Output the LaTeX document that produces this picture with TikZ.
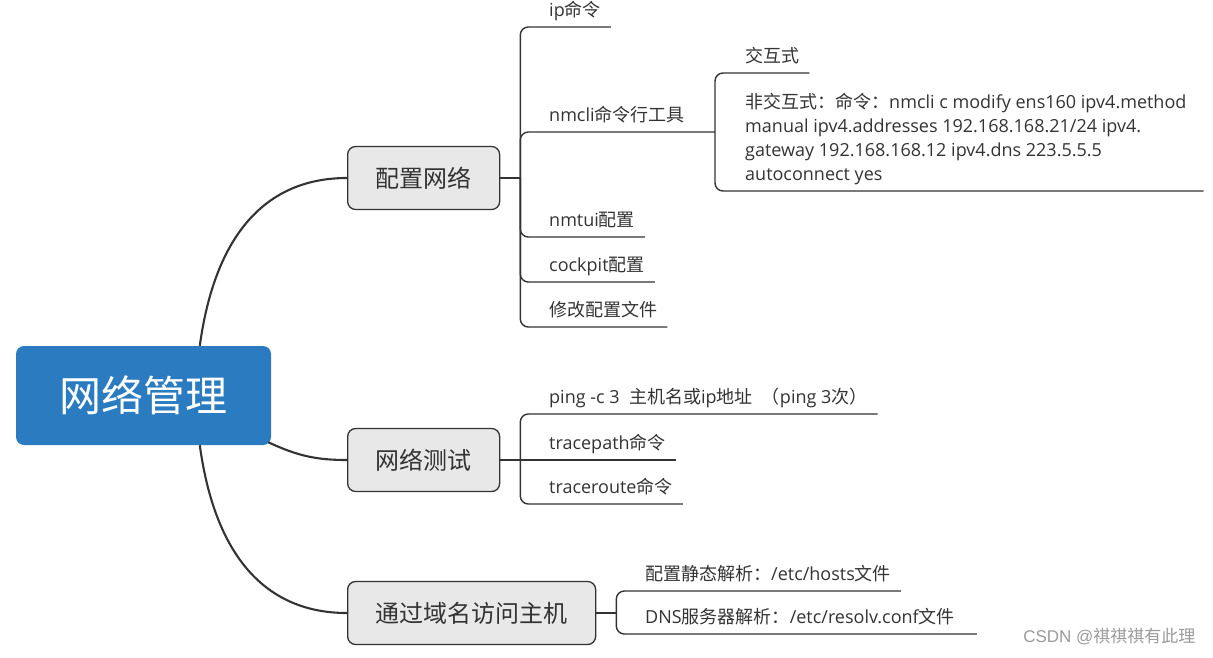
\documentclass[tikz,border=0pt]{standalone}
\usepackage{fontspec}
\setmainfont{Open Sans}
\newfontfamily\cjk{Noto Sans CJK SC}
\newfontfamily\marksans{Liberation Sans}
\newcommand{\zh}[1]{{\cjk #1}}
\usetikzlibrary{calc}
\definecolor{RootBlue}{HTML}{2B7BC1}
\definecolor{TopicGray}{HTML}{E8E8E8}
\definecolor{LineDark}{HTML}{333333}
\definecolor{MarkGray}{HTML}{9A9A9A}

\begin{document}
\begin{tikzpicture}[
    x=1pt, y=-1pt,
    root/.style={rectangle, rounded corners=8pt, fill=RootBlue, text=white, font=\cjk\fontsize{42}{50}\selectfont, minimum width=255pt, minimum height=99pt},
    topic/.style={rectangle, rounded corners=8pt, draw=LineDark, line width=1.3pt, fill=TopicGray, text=LineDark, font=\cjk\fontsize{24}{28}\selectfont, minimum height=63pt, inner xsep=28pt, anchor=west},
    leaf/.style={anchor=south west, inner xsep=10pt, inner ysep=0pt, text depth=10pt, text=LineDark, align=left, font=\fontsize{18}{24}\selectfont},
    curve/.style={line width=2.1pt, draw=LineDark},
    branch/.style={line width=1.4pt, draw=LineDark, rounded corners=8pt}
]
\useasboundingbox (0,0) rectangle (1213,657);

\node[root] (root) at (143.5,395.5) {网络管理};
\node[topic] (cfg) at (347,178) {配置网络};
\node[topic] (test) at (347,460) {网络测试};
\node[topic] (dns) at (347,613) {通过域名访问主机};

% configure network
\node[leaf] (ipcmd) at (539,27) {ip\zh{命令}};
\node[leaf] (nmcli) at (539,132) {nmcli\zh{命令行工具}};
\node[leaf] (nmtui) at (539,237) {nmtui\zh{配置}};
\node[leaf] (cockpit) at (539,282) {cockpit\zh{配置}};
\node[leaf] (cfgfile) at (539,327) {\zh{修改配置文件}};
\node[leaf] (inter) at (735,73) {\zh{交互式}};
\node[leaf] (noninter) at (735,191) {\zh{非交互式：命令：}nmcli c modify ens160 ipv4.method\\
    manual ipv4.addresses 192.168.168.21/24 ipv4.\\
    gateway 192.168.168.12 ipv4.dns 223.5.5.5\\
    autoconnect yes};

% network test
\node[leaf] (ping) at (539,414) {ping -c 3\ \ \zh{主机名或}ip\zh{地址}\ \ \zh{（}ping 3\zh{次）}};
\node[leaf] (tpath) at (539,460) {tracepath\zh{命令}};
\node[leaf] (troute) at (539,504) {traceroute\zh{命令}};

% hostname lookup
\node[leaf] (hosts) at (635,591) {\zh{配置静态解析：}/etc/hosts\zh{文件}};
\node[leaf] (resolv) at (635,634) {DNS\zh{服务器解析：}/etc/resolv.conf\zh{文件}};

\node[anchor=east, text=MarkGray, font=\marksans\fontsize{17}{20}\selectfont] (mark) at (1199,637) {CSDN @\zh{祺祺祺有此理}};

\coordinate (jcfg) at ($(cfg.east)+(20,0)$);
\coordinate (jnm) at (715,132);
\coordinate (jtest) at ($(test.east)+(20,0)$);
\coordinate (jdns) at ($(dns.east)+(20,0)$);

% root to topics
\draw[curve] ($(root.north west)+(184,0)$) .. controls +(15,-110) and +(-82,0) .. (cfg.west);
\draw[curve] ($(root.south east)+(-3,-3)$) .. controls +(30,14) and +(-30,0) .. (test.west);
\draw[curve] ($(root.south west)+(184,0)$) .. controls +(15,110) and +(-82,0) .. (dns.west);

% topic branches
\draw[branch] (cfg.east) -- (jcfg);
\draw[branch] (jcfg) |- (ipcmd.south east);
\draw[branch] (jcfg) |- (jnm);
\draw[branch] (jcfg) |- (nmtui.south east);
\draw[branch] (jcfg) |- (cockpit.south east);
\draw[branch] (jcfg) |- (cfgfile.south east);
\draw[branch] (jnm) |- (inter.south east);
\draw[branch] (jnm) |- ($(noninter.south east)+(7,0)$);

\draw[branch] (test.east) -- (jtest);
\draw[branch] (jtest) |- (ping.south east);
\draw[branch] (jtest) -- (tpath.south east);
\draw[branch] (jtest) |- (troute.south east);

\draw[branch] (dns.east) -- (jdns);
\draw[branch] (jdns) |- (hosts.south east);
\draw[branch] (jdns) |- ($(resolv.south east)+(12,0)$);
\end{tikzpicture}
\end{document}
